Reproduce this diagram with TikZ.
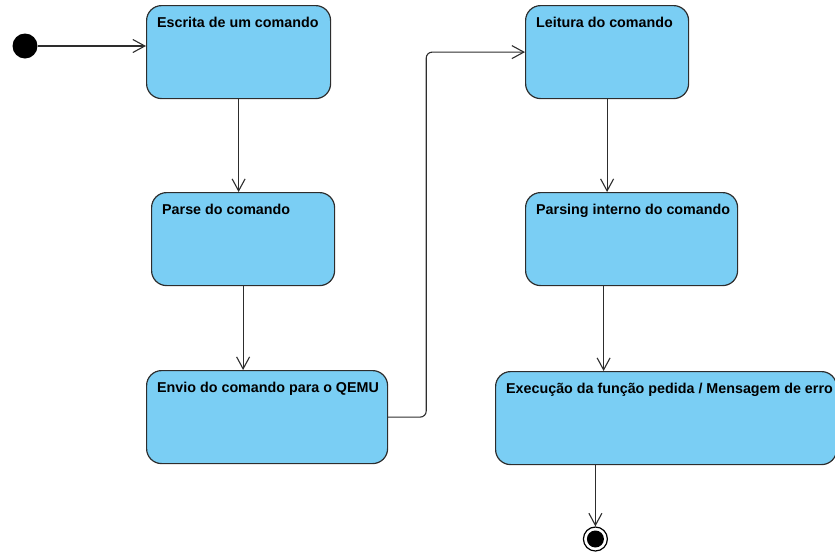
\documentclass[tikz,border=0pt]{standalone}
\usepackage{fontspec}
\setmainfont{Liberation Sans}
\usetikzlibrary{positioning}
\usetikzlibrary{arrows.meta}
\definecolor{stateblue}{RGB}{122,206,244}
\definecolor{edgegray}{RGB}{45,45,45}
\tikzset{
    statebox/.style = {rectangle, rounded corners=15pt, line width=1.2pt, draw=edgegray, fill=stateblue, anchor=north west, minimum height=93pt, inner sep=0pt},
    boxlabel/.style = {anchor=base west, xshift=11pt, yshift=-22pt, inner sep=0pt, font=\bfseries\fontsize{14.3}{16}\selectfont},
    initnode/.style = {circle, fill=black, minimum size=25pt, inner sep=0pt},
    finalnode/.style = {circle, draw=black, line width=1.2pt, fill=white, minimum size=24pt, inner sep=0pt, path picture={\fill[black] (path picture bounding box.center) circle (8.5pt);}},
    edgen/.style = {-{Straight Barb[length=12pt,width=13pt]}, line width=1.1pt, edgegray},
}
\begin{document}
\begin{tikzpicture}[x=1pt,y=-1pt]
\useasboundingbox (0,0) rectangle (835,552);
%
\node[initnode] at (25,46) (start) {};
\node[statebox, minimum width=184pt, label={[boxlabel]north west:Escrita de um comando}] at (146,5) (escrita) {};
\node[statebox, minimum width=183pt, label={[boxlabel]north west:Parse do comando}] at (151,192) (parse) {};
\node[statebox, minimum width=241pt, label={[boxlabel]north west:Envio do comando para o QEMU}] at (146,370) (envio) {};
\node[statebox, minimum width=163pt, label={[boxlabel]north west:Leitura do comando}] at (525,5) (leitura) {};
\node[statebox, minimum width=212pt, label={[boxlabel]north west:Parsing interno do comando}] at (525,192) (parsing) {};
\node[statebox, minimum width=341pt, label={[boxlabel]north west:Execução da função pedida / Mensagem de erro}] at (495,371) (execucao) {};
\node[finalnode] at (595.4,539) (fim) {};
%
\draw[edgen] (start) -- (start -| escrita.west);
\draw[edgen] (escrita.south) -- (escrita.south |- parse.north);
\draw[edgen] (parse.south) -- (parse.south |- envio.north);
\draw[edgen, rounded corners=6pt] (envio.east) -- ++(38,0) |- (leitura.west);
\draw[edgen] (leitura.south) -- (leitura.south |- parsing.north);
\draw[edgen] ([xshift=-28pt]parsing.south) -- ([xshift=-28pt]parsing.south |- execucao.north);
\draw[edgen] (execucao.south -| fim) -- (fim);
\end{tikzpicture}
\end{document}
